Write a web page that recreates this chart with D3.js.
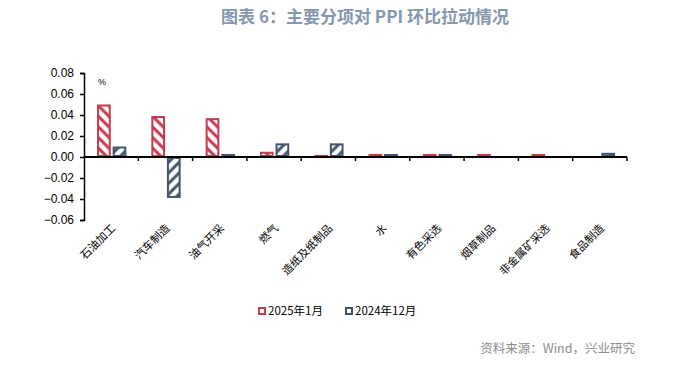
<!DOCTYPE html>
<html>
<head>
<meta charset="utf-8">
<script src="https://cdn.jsdelivr.net/npm/d3@7"></script>
<style>
  body { margin: 0; background: #fff; }
  text { font-family: "Liberation Sans", Arial, sans-serif; }
  .cjk { font-family: "Noto Sans CJK SC", sans-serif; }
</style>
</head>
<body>
<div id="chart"></div>
<script>
// data
var categories = ["石油加工", "汽车制造", "油气开采", "燃气", "造纸及纸制品", "水", "有色采选", "烟草制品", "非金属矿采选", "食品制造"];
var jan2025 = [0.050, 0.039, 0.037, 0.005, 0.002, 0.001, 0.001, 0.001, 0.001, 0.000];
var dec2024 = [0.010, -0.039, 0.001, 0.013, 0.013, 0.001, 0.001, 0.000, 0.000, 0.004];
var seriesNames = ["2025年1月", "2024年12月"];
var yTicks = [0.08, 0.06, 0.04, 0.02, 0.00, -0.02, -0.04, -0.06];

var red = "#C8394C", blue = "#44546A";

var svgWidth = 685, svgHeight = 366;
var margin = { top: 73, left: 84, right: 58, bottom: 146 };
var width = svgWidth - margin.left - margin.right;
var height = svgHeight - margin.top - margin.bottom;

var svg = d3.select("#chart").append("svg")
  .attr("width", svgWidth)
  .attr("height", svgHeight);

// hatch patterns
var defs = svg.append("defs");
function hatch(id, color, angle) {
  var p = defs.append("pattern")
    .attr("id", id)
    .attr("patternUnits", "userSpaceOnUse")
    .attr("width", 7.5)
    .attr("height", 7.5)
    .attr("patternTransform", `rotate(${angle})`);
  p.append("rect").attr("width", 7.5).attr("height", 7.5).attr("fill", "#fff");
  p.append("line").attr("x1", 2).attr("y1", 0).attr("x2", 2).attr("y2", 7.5)
    .attr("stroke", color).attr("stroke-width", 3);
}
hatch("hatchRed", red, -45);
hatch("hatchBlue", blue, 45);

// title
svg.append("text")
  .attr("class", "cjk")
  .attr("x", 365).attr("y", 23)
  .attr("text-anchor", "middle")
  .attr("font-size", 17).attr("font-weight", "bold")
  .attr("fill", "#8497B0")
  .text("图表 6：主要分项对 PPI 环比拉动情况");

var chartGroup = svg.append("g")
  .attr("transform", `translate(${margin.left}, ${margin.top})`);

var x0 = d3.scaleBand().domain(categories).range([0, width]);
var x1 = d3.scaleBand().domain(seriesNames).range([x0.bandwidth() * 0.24, x0.bandwidth() * 0.78]).paddingInner(0.12);
var y = d3.scaleLinear().domain([-0.06, 0.08]).range([height, 0]);

// y axis
var leftAxis = d3.axisLeft(y).tickValues(yTicks).tickFormat(d3.format(".2f")).tickSize(4).tickPadding(6);
var yAxis = chartGroup.append("g").call(leftAxis);
yAxis.select(".domain").attr("stroke", "#000").attr("stroke-width", 1.5);
yAxis.selectAll(".tick line").attr("stroke", "#000").attr("stroke-width", 1.5);
yAxis.selectAll(".tick text").attr("font-size", 12).attr("fill", "#000")
  .style("font-family", "'Liberation Sans', Arial, sans-serif");

// bars
var rows = categories.map(function(c, i) {
  return [{ cat: c, s: seriesNames[0], v: jan2025[i] }, { cat: c, s: seriesNames[1], v: dec2024[i] }];
});
var groups = chartGroup.selectAll(".cat")
  .data(rows)
  .enter().append("g")
  .attr("transform", d => `translate(${x0(d[0].cat)},0)`);

groups.selectAll("rect")
  .data(d => d)
  .enter().append("rect")
  .attr("x", d => x1(d.s) + 1)
  .attr("width", x1.bandwidth() - 2)
  .attr("y", d => Math.min(y(d.v), y(0)) + (Math.abs(y(d.v) - y(0)) > 2 ? 1 : -1))
  .attr("height", d => Math.max(Math.abs(y(d.v) - y(0)) - 2, 0.5))
  .attr("fill", d => d.s === seriesNames[0] ? "url(#hatchRed)" : "url(#hatchBlue)")
  .attr("stroke", d => d.s === seriesNames[0] ? red : blue)
  .attr("stroke-width", 2)
  .attr("display", d => d.v === 0 ? "none" : null);

// x axis at zero
var xAxis = chartGroup.append("g").attr("transform", `translate(0, ${y(0)})`);
xAxis.append("line").attr("x1", 0).attr("x2", width).attr("stroke", "#000").attr("stroke-width", 2);
xAxis.selectAll(".xt")
  .data(categories)
  .enter().append("line")
  .attr("x1", d => x0(d) + x0.bandwidth()).attr("x2", d => x0(d) + x0.bandwidth())
  .attr("y1", 0).attr("y2", 4)
  .attr("stroke", "#000").attr("stroke-width", 1.5);

// category labels
chartGroup.selectAll(".xl")
  .data(categories)
  .enter().append("text")
  .attr("class", "cjk")
  .attr("font-size", 11)
  .attr("text-anchor", "end")
  .attr("transform", d => `translate(${x0(d) + x0.bandwidth() / 2 + 5}, ${height + 9}) rotate(-45)`)
  .text(d => d);

// unit
chartGroup.append("text")
  .attr("x", 14).attr("y", 12)
  .attr("font-size", 9)
  .text("%");

// legend
var legend = svg.append("g").attr("transform", "translate(258, 313)");
seriesNames.forEach(function(name, i) {
  var g = legend.append("g").attr("transform", `translate(${i * 87}, 0)`);
  g.append("rect").attr("x", 1).attr("y", -5).attr("width", 6).attr("height", 6)
    .attr("fill", "#fff").attr("stroke", i === 0 ? red : blue).attr("stroke-width", 2);
  g.append("text").attr("class", "cjk").attr("x", 10).attr("y", 2)
    .attr("font-size", 11.5).text(name);
});

// source
svg.append("text")
  .attr("class", "cjk")
  .attr("x", 635).attr("y", 353)
  .attr("text-anchor", "end")
  .attr("font-size", 12.5)
  .attr("fill", "#8c8c8c")
  .text("资料来源：Wind，兴业研究");
</script>
</body>
</html>
